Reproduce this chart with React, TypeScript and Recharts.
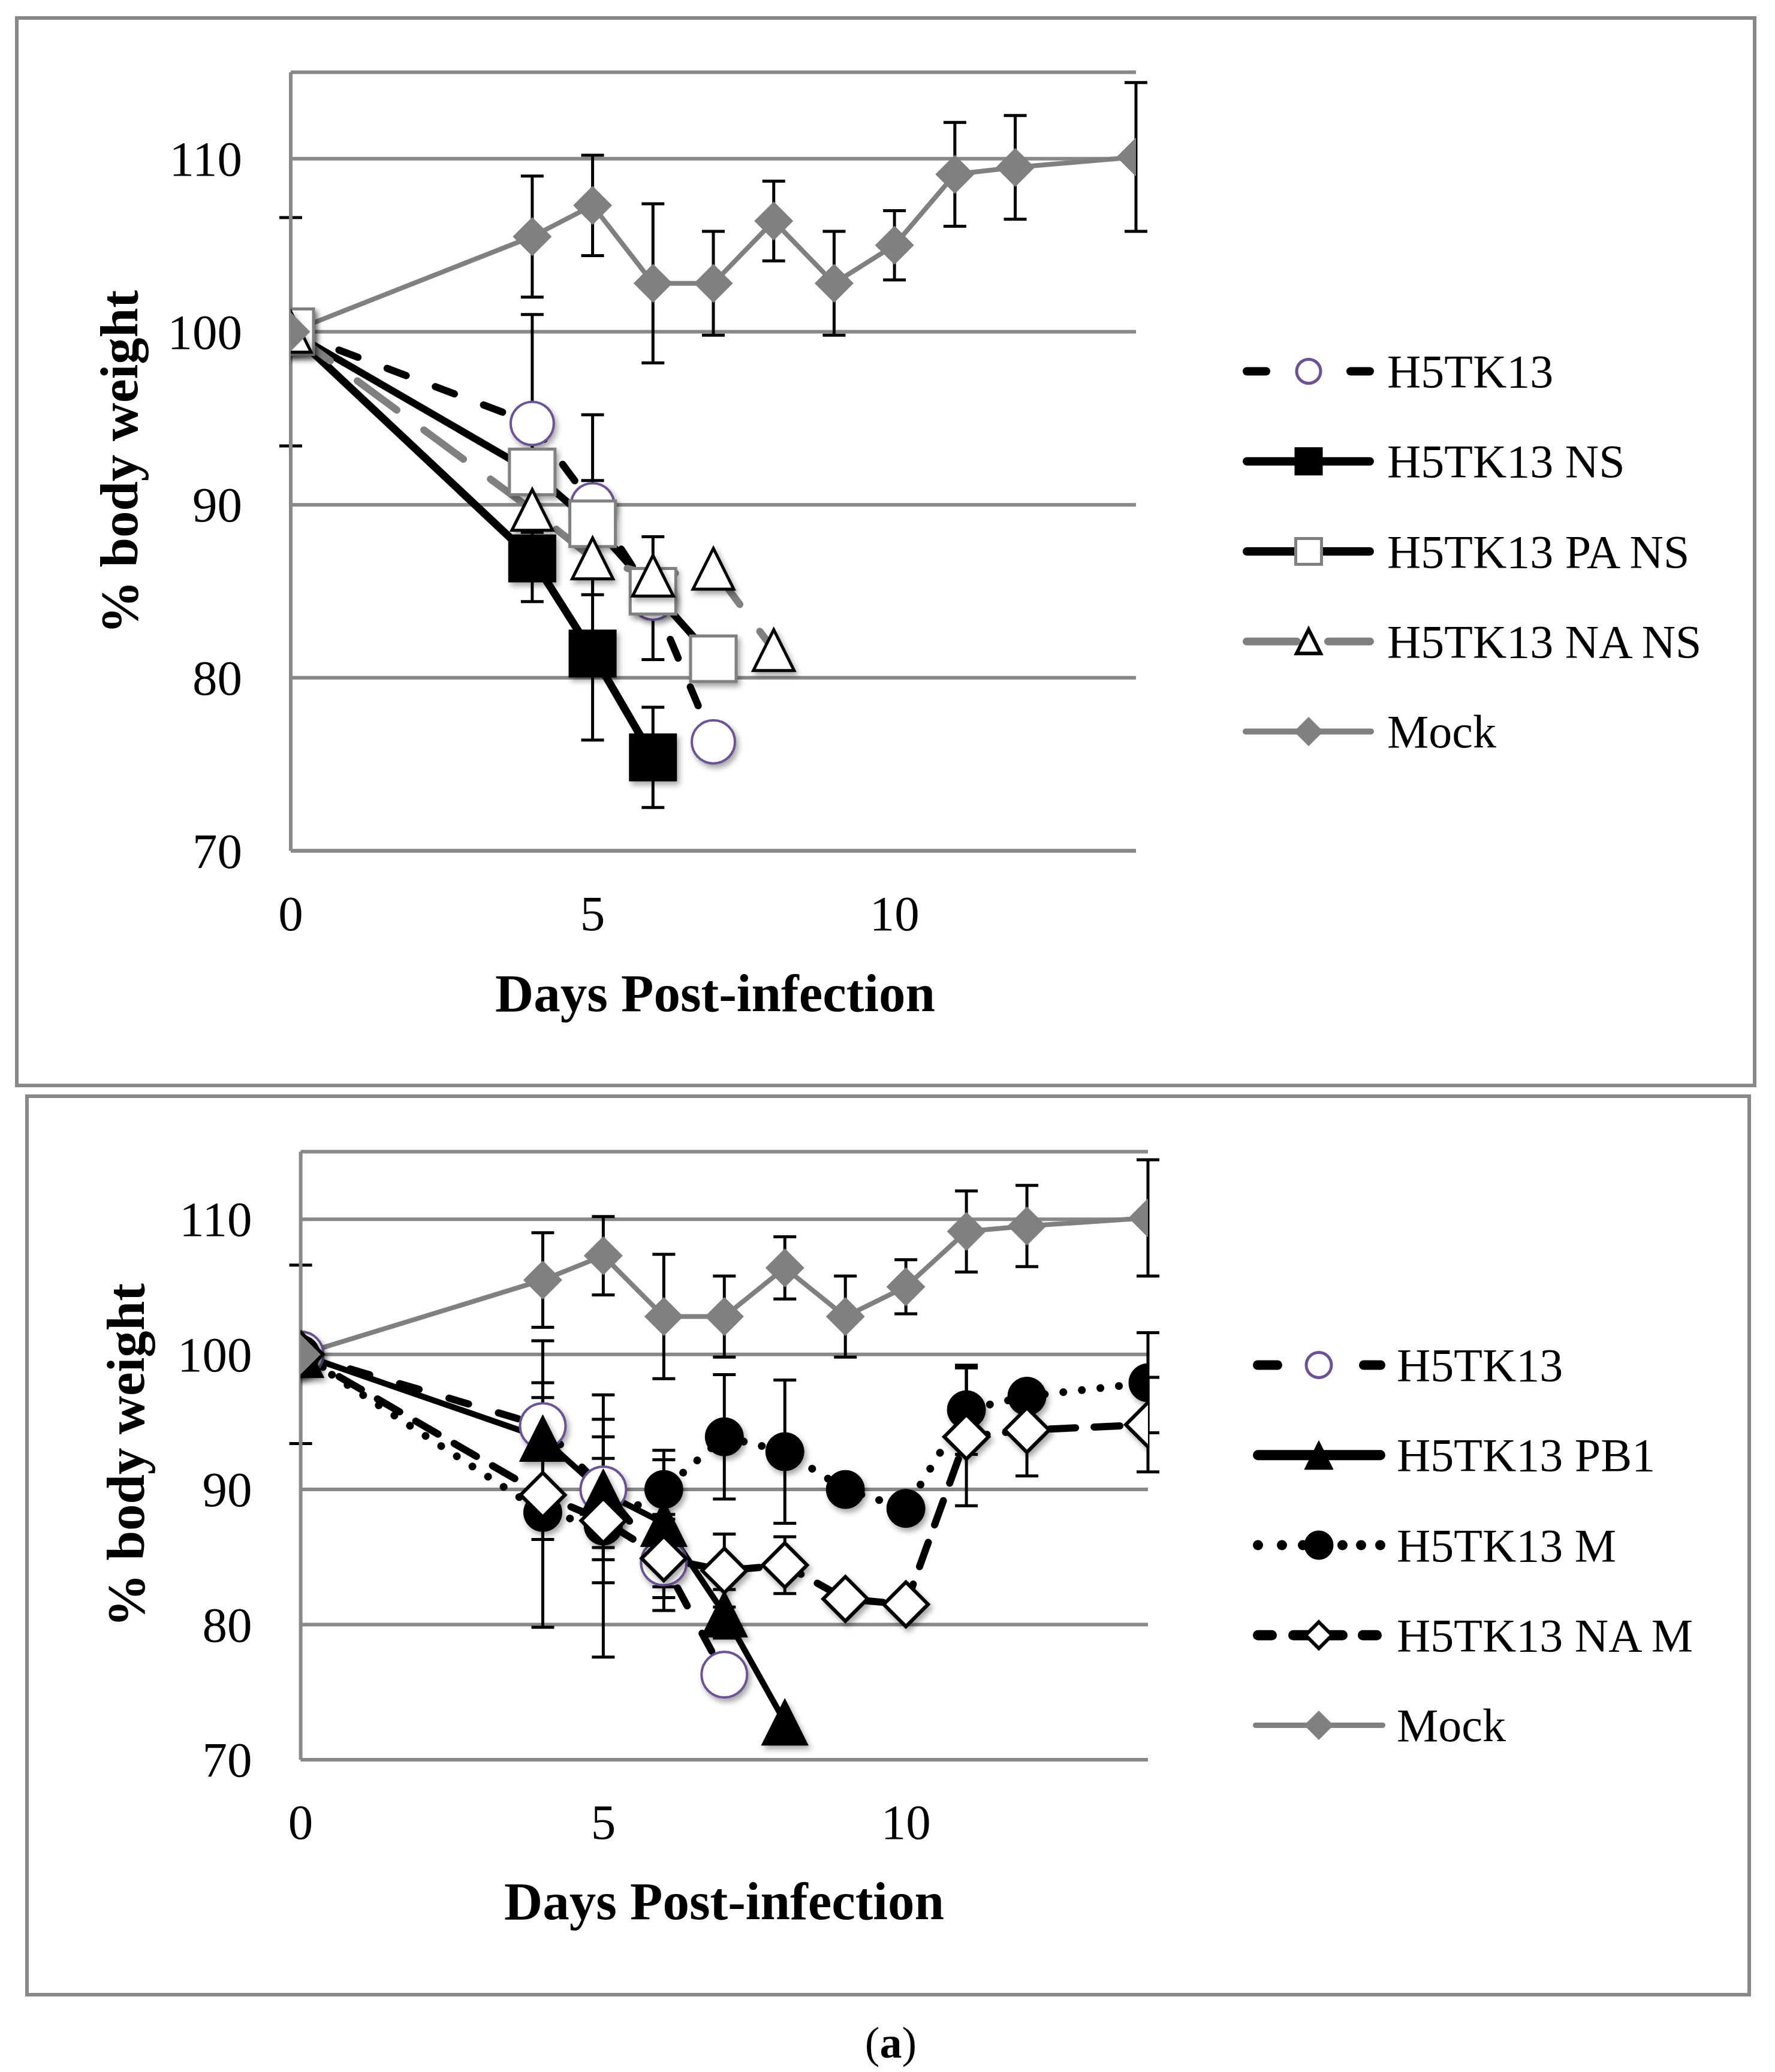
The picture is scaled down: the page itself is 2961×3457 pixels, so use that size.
import React from 'react';
import { LineChart, Line, XAxis, YAxis, CartesianGrid, ErrorBar, Legend } from 'recharts';

const FONT = '"Liberation Serif", "Times New Roman", serif';
const GRID = '#888888';
const GREY = '#808080';
const PURPLE = '#6c5197';

// ---------- axes ----------
const dayTicks = [0, 5, 10];
const weightTicks = [70, 80, 90, 100, 110];
const dayDomain: [number, number] = [0, 14];
const weightDomain: [number, number] = [70, 115];

// ---------- Mock (both panels) ----------
const mockDays = [0, 4, 5, 6, 7, 8, 9, 10, 11, 12, 14];
const mockWeight = [100, 105.5, 107.3, 102.8, 102.8, 106.4, 102.8, 105.0, 109.1, 109.5, 110.1];
const mockErr = [6.6, 3.5, 2.9, 4.6, 3.0, 2.3, 3.0, 2.0, 3.0, 3.0, 4.3];

// ---------- H5TK13 (both panels) ----------
const h5Days = [0, 4, 5, 6, 7];
const h5Weight = [100, 94.7, 90.0, 84.6, 76.3];
const h5Err = [null, 6.3, 5.2, 3.55, null];

// ---------- top panel ----------
const nsDays = [0, 4, 5, 6];
const nsWeight = [100, 86.9, 81.4, 75.4];
const nsErr = [null, 2.5, 5.0, 2.9];

const paNsDays = [0, 4, 5, 6, 7];
const paNsWeight = [100, 91.9, 88.9, 85.0, 81.1];
const paNsErr = [null, 2.45, 2.5, null, null];

const naNsDays = [0, 4, 5, 6, 7, 8];
const naNsWeight = [100, 89.7, 86.9, 85.9, 86.3, 81.6];
const naNsErr = [null, null, null, null, null, null];

// ---------- bottom panel ----------
const pb1Days = [0, 4, 5, 6, 7, 8];
const pb1Weight = [100, 93.8, 89.8, 87.5, 80.8, 72.8];
const pb1Err = [null, 4.1, 4.1, 4.7, 1.8, null];

const mDays = [0, 4, 5, 6, 7, 8, 9, 10, 11, 12, 14];
const mWeight = [100, 88.3, 87.3, 90.0, 93.9, 92.8, 90.0, 88.6, 95.9, 96.9, 97.9];
const mErr = [null, 8.5, 9.7, 2.9, 4.6, 5.3, null, null, 3.3, null, 3.7];

const naMDays = [0, 4, 5, 6, 7, 8, 9, 10, 11, 12, 14];
const naMWeight = [100, 89.6, 87.7, 84.9, 84.0, 84.4, 81.9, 81.5, 93.9, 94.4, 94.8];
const naMErr = [null, 3.3, 4.6, 2.9, 2.7, 2.1, null, null, 5.1, 3.4, 3.5];

// ---------- helpers ----------
type Shape = 'circle' | 'square' | 'triangle' | 'diamond';
interface MarkerStyle {
  shape: Shape;
  size: number;
  fill: string;
  stroke: string;
  strokeWidth: number;
  shadow?: boolean;
}

const rows = (days: number[], w: number[], e: (number | null)[]) =>
  days.map((d, i) => ({ day: d, w: w[i], err: e[i] == null ? undefined : e[i] }));

function Marker({ cx, cy, m }: { cx: number; cy: number; m: MarkerStyle }) {
  if (cx == null || cy == null || isNaN(cx) || isNaN(cy)) return null;
  const h = m.size / 2;
  const style = m.shadow ? { filter: 'drop-shadow(4px 6px 5px rgba(0,0,0,0.35))' } : undefined;
  const common = { fill: m.fill, stroke: m.stroke, strokeWidth: m.strokeWidth, style };
  if (m.shape === 'circle') return <circle cx={cx} cy={cy} r={h} {...common} />;
  if (m.shape === 'square') return <rect x={cx - h} y={cy - h} width={m.size} height={m.size} {...common} />;
  if (m.shape === 'triangle')
    return <polygon points={`${cx},${cy - h} ${cx + h},${cy + h} ${cx - h},${cy + h}`} strokeLinejoin="miter" {...common} />;
  return <polygon points={`${cx},${cy - h} ${cx + h},${cy} ${cx},${cy + h} ${cx - h},${cy}`} {...common} />;
}

interface SeriesDef {
  name: string;
  data: { day: number; w: number; err?: number }[];
  stroke: string;
  width: number;
  dash?: string;
  marker: MarkerStyle;
  legendMarker: MarkerStyle;
  legendStroke: string;
  legendWidth: number;
  legendSegs?: [number, number][];
  legendDots?: number[];
}

// marker styles
const mkH5 = (s: number, sw: number): MarkerStyle => ({ shape: 'circle', size: s, fill: '#fff', stroke: PURPLE, strokeWidth: sw, shadow: s > 50 });
const mkMock = (s: number): MarkerStyle => ({ shape: 'diamond', size: s, fill: GREY, stroke: GREY, strokeWidth: 1 });

const topSeries: SeriesDef[] = [
  {
    name: 'H5TK13', data: rows(h5Days, h5Weight, h5Err), stroke: '#000', width: 12, dash: '34 52',
    marker: mkH5(72, 4), legendMarker: mkH5(40, 5), legendStroke: '#000', legendWidth: 14,
    legendSegs: [[0, 46], [173, 219]],
  },
  {
    name: 'H5TK13 NS', data: rows(nsDays, nsWeight, nsErr), stroke: '#000', width: 13,
    marker: { shape: 'square', size: 78, fill: '#000', stroke: '#000', strokeWidth: 2, shadow: true },
    legendMarker: { shape: 'square', size: 46, fill: '#000', stroke: '#000', strokeWidth: 1 },
    legendStroke: '#000', legendWidth: 14, legendSegs: [[0, 219]],
  },
  {
    name: 'H5TK13 PA NS', data: rows(paNsDays, paNsWeight, paNsErr), stroke: '#000', width: 12,
    marker: { shape: 'square', size: 76, fill: '#fff', stroke: GREY, strokeWidth: 5, shadow: true },
    legendMarker: { shape: 'square', size: 43, fill: '#fff', stroke: GREY, strokeWidth: 5 },
    legendStroke: '#000', legendWidth: 14, legendSegs: [[0, 219]],
  },
  {
    name: 'H5TK13 NA NS', data: rows(naNsDays, naNsWeight, naNsErr), stroke: GREY, width: 12, dash: '82 56',
    marker: { shape: 'triangle', size: 68, fill: '#fff', stroke: '#000', strokeWidth: 5, shadow: true },
    legendMarker: { shape: 'triangle', size: 40, fill: '#fff', stroke: '#000', strokeWidth: 6 },
    legendStroke: GREY, legendWidth: 13, legendSegs: [[0, 97], [136, 219]],
  },
  {
    name: 'Mock', data: rows(mockDays, mockWeight, mockErr), stroke: GREY, width: 8,
    marker: mkMock(64), legendMarker: mkMock(48), legendStroke: GREY, legendWidth: 10, legendSegs: [[0, 219]],
  },
];

const bottomSeries: SeriesDef[] = [
  {
    name: 'H5TK13', data: rows(h5Days, h5Weight, h5Err), stroke: '#000', width: 12, dash: '34 52',
    marker: mkH5(76, 4), legendMarker: mkH5(42, 5), legendStroke: '#000', legendWidth: 16,
    legendSegs: [[0, 49], [177, 221]],
  },
  {
    name: 'H5TK13 PB1', data: rows(pb1Days, pb1Weight, pb1Err), stroke: '#000', width: 10,
    marker: { shape: 'triangle', size: 78, fill: '#000', stroke: '#000', strokeWidth: 1, shadow: true },
    legendMarker: { shape: 'triangle', size: 48, fill: '#000', stroke: '#000', strokeWidth: 1 },
    legendStroke: '#000', legendWidth: 17, legendSegs: [[0, 221]],
  },
  {
    name: 'H5TK13 M', data: rows(mDays, mWeight, mErr), stroke: '#000', width: 13, dash: '0.1 31',
    marker: { shape: 'circle', size: 64, fill: '#000', stroke: '#000', strokeWidth: 1, shadow: true },
    legendMarker: { shape: 'circle', size: 48, fill: '#000', stroke: '#000', strokeWidth: 1 },
    legendStroke: '#000', legendWidth: 17, legendDots: [0, 40, 75, 141, 172, 204],
  },
  {
    name: 'H5TK13 NA M', data: rows(naMDays, naMWeight, naMErr), stroke: '#000', width: 12, dash: '43 31',
    marker: { shape: 'diamond', size: 74, fill: '#fff', stroke: '#000', strokeWidth: 6, shadow: true },
    legendMarker: { shape: 'diamond', size: 44, fill: '#fff', stroke: '#000', strokeWidth: 6 },
    legendStroke: '#000', legendWidth: 17, legendSegs: [[0, 40], [59, 158], [175, 215]],
  },
  {
    name: 'Mock', data: rows(mockDays, mockWeight, mockErr), stroke: GREY, width: 8,
    marker: mkMock(64), legendMarker: mkMock(48), legendStroke: GREY, legendWidth: 9, legendSegs: [[0, 221]],
  },
];

interface PanelLayout {
  top: number;
  height: number;
  plotLeft: number;
  plotRight: number;
  plotTop: number;
  plotBottom: number;
  yLabelX: number;
  yLabelY: number;
  xLabelX: number;
  xLabelY: number;
  legendLeft: number;
  legendTop: number;
  legendRow0: number;
  legendX0: number;
  legendText: number;
}

const TOP: PanelLayout = {
  top: 0, height: 1800, plotLeft: 485, plotRight: 1895, plotTop: 120.5, plotBottom: 1419.5,
  yLabelX: 199, yLabelY: 771, xLabelX: 1193, xLabelY: 1657,
  legendLeft: 2050, legendTop: 540, legendRow0: 79.5, legendX0: 23, legendText: 264,
};
const BOTTOM: PanelLayout = {
  top: 1800, height: 1657, plotLeft: 501.6, plotRight: 1915, plotTop: 121.5, plotBottom: 1136,
  yLabelX: 210, yLabelY: 628, xLabelX: 1208, xLabelY: 1372,
  legendLeft: 2050, legendTop: 400, legendRow0: 77.5, legendX0: 40, legendText: 280,
};

const W = 2961;
const YAXIS_W = 200;
const XAXIS_H = 300;

function LegendBox({ series, L }: { series: SeriesDef[]; L: PanelLayout }) {
  return (
    <svg width={900} height={780} style={{ overflow: 'visible', display: 'block' }}>
      {series.map((s, i) => {
        const y = L.legendRow0 + i * 150.25;
        const x0 = L.legendX0;
        const hw = s.legendWidth / 2;
        return (
          <g key={s.name}>
            {s.legendSegs &&
              s.legendSegs.map(([a, b], j) => (
                <line key={j} x1={x0 + a + hw} x2={x0 + b - hw} y1={y} y2={y} stroke={s.legendStroke}
                  strokeWidth={s.legendWidth} strokeLinecap="round" />
              ))}
            {s.legendDots &&
              s.legendDots.map((d, j) => (
                <circle key={j} cx={x0 + d + hw} cy={y} r={hw} fill={s.legendStroke} />
              ))}
            <Marker cx={x0 + 110} cy={y} m={s.legendMarker} />
            <text x={L.legendText} y={y} dominantBaseline="central" fontFamily={FONT} fontSize={78} fill="#000">
              {s.name}
            </text>
          </g>
        );
      })}
    </svg>
  );
}

function Panel({ series, L }: { series: SeriesDef[]; L: PanelLayout }) {
  const margin = {
    top: L.plotTop,
    left: L.plotLeft - YAXIS_W,
    right: W - L.plotRight,
    bottom: L.height - L.plotBottom - XAXIS_H,
  };
  const xTick = (p: any) => (
    <text x={p.x} y={L.plotBottom + 104} textAnchor="middle" dominantBaseline="central"
      fontFamily={FONT} fontSize={83} fill="#000">{p.payload.value}</text>
  );
  const yTick = (p: any) => (
    <text x={L.plotLeft - 81} y={p.y} textAnchor="end" dominantBaseline="central"
      fontFamily={FONT} fontSize={83} fill="#000">{p.payload.value}</text>
  );
  const yLabel = () => (
    <text x={L.yLabelX} y={L.yLabelY} transform={`rotate(-90 ${L.yLabelX} ${L.yLabelY})`} textAnchor="middle"
      dominantBaseline="central" fontFamily={FONT} fontWeight="bold" fontSize={89} fill="#000">% body weight</text>
  );
  const xLabel = () => (
    <text x={L.xLabelX} y={L.xLabelY} textAnchor="middle" dominantBaseline="central"
      fontFamily={FONT} fontWeight="bold" fontSize={89} fill="#000">Days Post-infection</text>
  );
  return (
    <div style={{ position: 'absolute', left: 0, top: L.top, width: W, height: L.height }}>
      <LineChart width={W} height={L.height} margin={margin}>
        <CartesianGrid vertical={false} stroke={GRID} strokeWidth={6} />
        <XAxis type="number" dataKey="day" domain={dayDomain} ticks={dayTicks} allowDataOverflow
          height={XAXIS_H} tickSize={0} tickMargin={0} tickLine={false} interval={0}
          axisLine={{ stroke: GRID, strokeWidth: 6 }} tick={xTick} label={xLabel} />
        <YAxis type="number" dataKey="w" domain={weightDomain} ticks={weightTicks} allowDataOverflow
          width={YAXIS_W} tickSize={0} tickMargin={0} tickLine={false} interval={0}
          axisLine={{ stroke: GRID, strokeWidth: 6 }} tick={yTick} label={yLabel} />
        {series.map((s) => (
          <Line key={s.name} data={s.data} dataKey="w" name={s.name} type="linear" stroke={s.stroke}
            strokeWidth={s.width} strokeDasharray={s.dash} strokeLinecap="round" strokeLinejoin="round"
            isAnimationActive={false} activeDot={false} legendType="none"
            dot={(p: any) => <Marker key={`${s.name}-${p.index}`} cx={p.cx} cy={p.cy} m={s.marker} />}>
            <ErrorBar dataKey="err" direction="y" width={19} stroke="#000" strokeWidth={5} isAnimationActive={false} />
          </Line>
        ))}
        <Legend layout="vertical" align="center" verticalAlign="middle"
          wrapperStyle={{ left: L.legendLeft, top: L.legendTop, width: 900, height: 780 }}
          content={() => <LegendBox series={series} L={L} />} />
      </LineChart>
    </div>
  );
}

export default function App() {
  return (
    <div style={{ position: 'absolute', left: 0, top: 0, width: W, height: 3457, background: '#fff', overflow: 'hidden' }}>
      <div style={{ position: 'absolute', left: 25, top: 27, width: 2905, height: 1787, border: `6px solid ${GRID}`, boxSizing: 'border-box' }} />
      <div style={{ position: 'absolute', left: 42, top: 1826, width: 2879, height: 1505, border: `6px solid ${GRID}`, boxSizing: 'border-box' }} />
      <Panel series={topSeries} L={TOP} />
      <Panel series={bottomSeries} L={BOTTOM} />
      <div style={{ position: 'absolute', left: 1486, top: 3408, transform: 'translate(-50%, -50%)', fontFamily: FONT, fontSize: 74, lineHeight: 1, color: '#000' }}>
        (<b>a</b>)
      </div>
    </div>
  );
}
